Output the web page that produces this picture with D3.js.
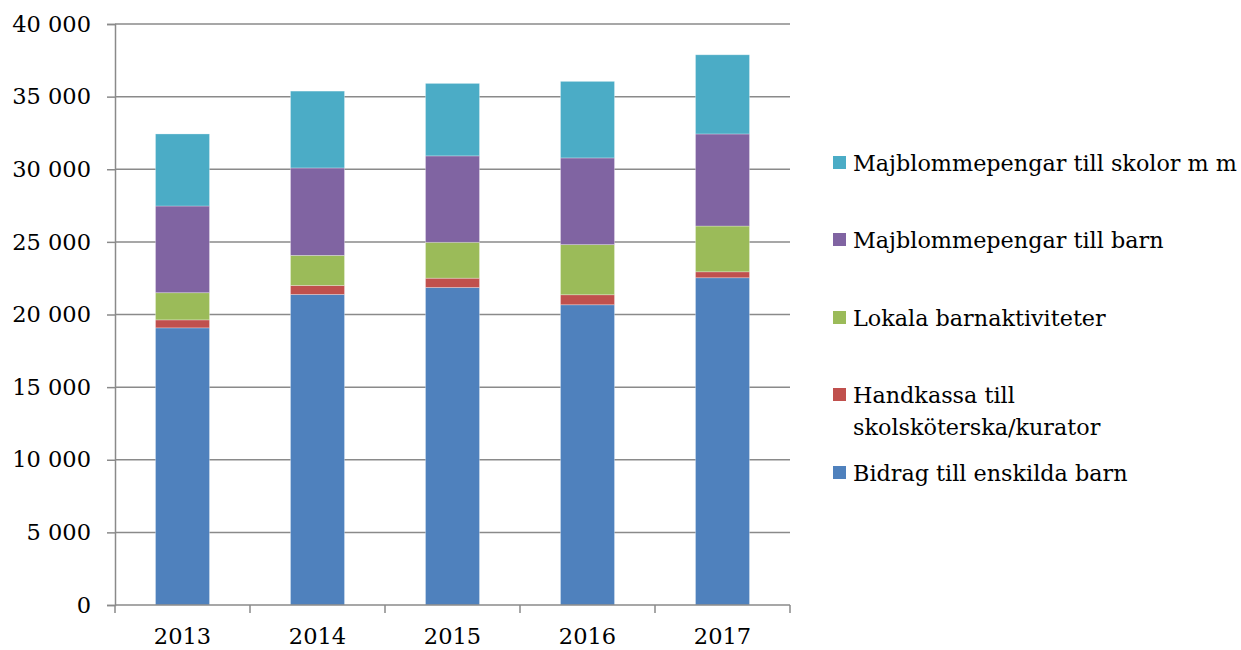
<!DOCTYPE html>
<html>
<head>
<meta charset="utf-8">
<script src="https://cdn.jsdelivr.net/npm/d3@7"></script>
<style>
  body { margin: 0; background: #fff; }
  svg text { font-family: "DejaVu Serif", serif; fill: #000; }
</style>
</head>
<body>
<div id="wrapper"></div>
<script>
// Data
const years = ["2013", "2014", "2015", "2016", "2017"]
const seriesNames = [
  "Bidrag till enskilda barn",
  "Handkassa till skolsköterska/kurator",
  "Lokala barnaktiviteter",
  "Majblommepengar till barn",
  "Majblommepengar till skolor m m"
]
const bidrag    = [19080, 21380, 21860, 20670, 22530]
const handkassa = [550, 620, 640, 690, 410]
const lokala    = [1870, 2070, 2470, 3450, 3150]
const barn      = [5970, 6020, 5950, 5970, 6340]
const skolor    = [4960, 5290, 4990, 5270, 5450]
const yTicks = [0, 5000, 10000, 15000, 20000, 25000, 30000, 35000, 40000]

const colors = ["#4F81BD", "#C0504D", "#9BBB59", "#8064A2", "#4BACC6"]
const legendLines = [
  ["Bidrag till enskilda barn"],
  ["Handkassa till", "skolsköterska/kurator"],
  ["Lokala barnaktiviteter"],
  ["Majblommepengar till barn"],
  ["Majblommepengar till skolor m m"]
]

function drawChart() {
  const width = 1241, height = 650
  const plot = { left: 115, right: 790, top: 24, bottom: 605 }
  const fontFam = "DejaVu Serif"

  const rows = years.map((y, i) => ({
    year: y,
    s0: bidrag[i], s1: handkassa[i], s2: lokala[i], s3: barn[i], s4: skolor[i]
  }))
  const keys = ["s0", "s1", "s2", "s3", "s4"]
  const stacked = d3.stack().keys(keys)(rows)

  const x = d3.scaleBand().domain(years).range([plot.left, plot.right]).paddingInner(0.6).paddingOuter(0.3)
  const xOuter = d3.scaleBand().domain(years).range([plot.left, plot.right])
  const y = d3.scaleLinear().domain([0, 40000]).range([plot.bottom, plot.top])

  const svg = d3.select("#wrapper").append("svg")
    .attr("width", width)
    .attr("height", height)

  const fmt = d => d3.format(",")(d).replace(/,/g, " ")

  // gridlines
  svg.append("g")
    .selectAll("line")
    .data(yTicks.slice(1))
    .join("line")
    .attr("x1", plot.left)
    .attr("x2", plot.right)
    .attr("y1", d => y(d))
    .attr("y2", d => y(d))
    .attr("stroke", "#8a8a8a")
    .attr("stroke-width", 1.5)

  // bars
  svg.append("g")
    .selectAll("g")
    .data(stacked)
    .join("g")
    .attr("fill", (d, i) => colors[i])
    .selectAll("rect")
    .data(d => d)
    .join("rect")
    .attr("x", d => x(d.data.year))
    .attr("width", x.bandwidth())
    .attr("y", d => y(d[1]))
    .attr("height", d => y(d[0]) - y(d[1]))
    .attr("stroke", "#ffffff")
    .attr("stroke-opacity", 0.35)
    .attr("stroke-width", 0.8)

  // y axis
  const yAxis = svg.append("g")
    .attr("transform", `translate(${plot.left},0)`)
    .call(d3.axisLeft(y).tickValues(yTicks).tickFormat(fmt).tickSize(8).tickPadding(16))
  yAxis.attr("font-family", fontFam)
  yAxis.select(".domain").attr("stroke", "#8a8a8a").attr("stroke-width", 1.5)
  yAxis.selectAll(".tick line").attr("stroke", "#8a8a8a").attr("stroke-width", 1.5)
  yAxis.selectAll(".tick text").attr("font-size", 22.5)

  // x axis
  const xAxisG = svg.append("g")
  xAxisG.append("line")
    .attr("x1", plot.left).attr("x2", plot.right)
    .attr("y1", plot.bottom).attr("y2", plot.bottom)
    .attr("stroke", "#8a8a8a").attr("stroke-width", 1.5)
  const bounds = years.map(d => xOuter(d)).concat([plot.right])
  xAxisG.selectAll(".xt")
    .data(bounds)
    .join("line")
    .attr("class", "xt")
    .attr("x1", d => d).attr("x2", d => d)
    .attr("y1", plot.bottom).attr("y2", plot.bottom + 8)
    .attr("stroke", "#8a8a8a").attr("stroke-width", 1.5)
  xAxisG.selectAll("text")
    .data(years)
    .join("text")
    .attr("x", d => xOuter(d) + xOuter.bandwidth() / 2)
    .attr("y", 644)
    .attr("text-anchor", "middle")
    .attr("font-size", 22.5)
    .text(d => d)

  // legend (reversed order, top entry = top of stack)
  const legendY = [473, 395, 318, 240, 163]
  const legend = svg.append("g")
  legendLines.forEach((lines, i) => {
    legend.append("rect")
      .attr("x", 833)
      .attr("y", legendY[i] - 7)
      .attr("width", 13)
      .attr("height", 13)
      .attr("fill", colors[i])
    lines.forEach((t, j) => {
      legend.append("text")
        .attr("x", 853)
        .attr("y", legendY[i] + 8 + j * 32)
        .attr("font-size", 22.3)
        .text(t)
    })
  })
}
drawChart()
</script>
</body>
</html>
